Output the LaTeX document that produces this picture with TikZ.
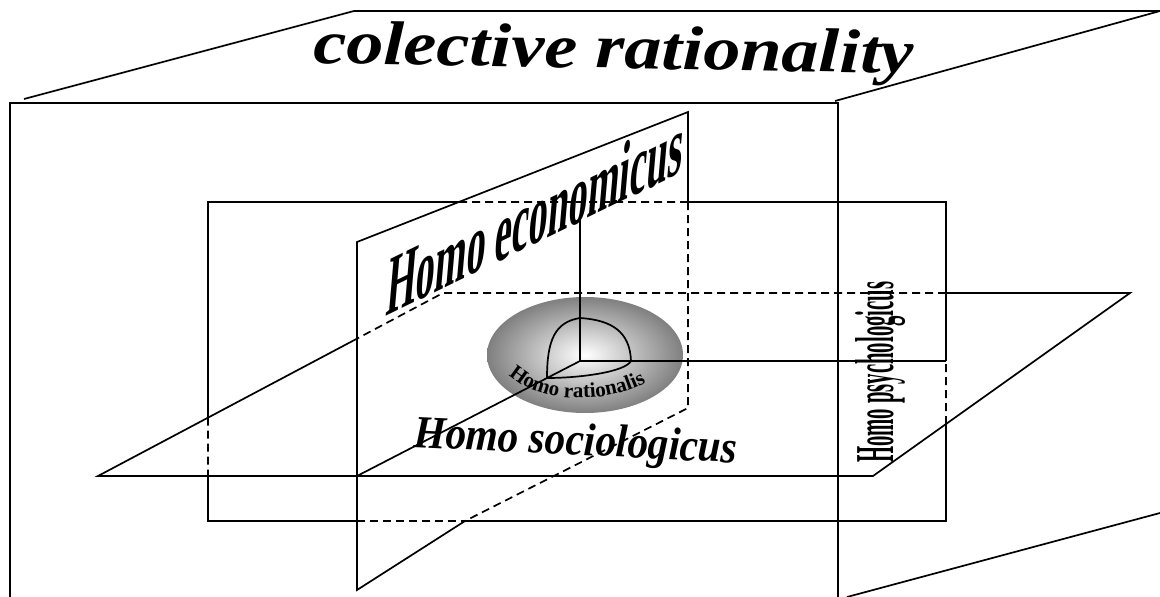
\documentclass[tikz,border=0pt]{standalone}
\usepackage{graphicx}
\usepackage{fontspec}
\setmainfont{Liberation Serif}
\usetikzlibrary{calc,shapes.geometric,decorations.text}
\newcommand{\OuterLabel}{colective rationality}
\newcommand{\EconLabel}{Homo economicus}
\newcommand{\SocioLabel}{Homo sociologicus}
\newcommand{\PsychoLabel}{Homo psychologicus}
\def\EdgeWidth{1.7pt}
\tikzset{
  edge/.style={line width=\EdgeWidth},
  hidden/.style={edge, dash pattern=on 8pt off 5pt},
  planetext/.style={inner sep=0pt, anchor=base west},
  core/.style={
    ellipse,
    minimum width=196pt,
    minimum height=116pt,
    inner sep=0pt,
    inner color=white,
    outer color=black!50
  }
}
\begin{document}
\begin{tikzpicture}[x=1pt,y=-1pt]
  \useasboundingbox (0,0) rectangle (1160,597);

  % box of the collective level
  \coordinate (boxTL) at (10,103);
  \coordinate (boxTR) at (838,103);
  \coordinate (boxBL) at (10,597);
  \coordinate (boxBR) at (838,597);
  \coordinate (backL) at (354,11);
  \coordinate (backR) at (1160,11);
  \coordinate (backB) at (1160,513);
  \draw[edge] (boxBL) -- (boxTL) -- (boxTR) -- (boxBR);
  \draw[edge] (24,99) -- (backL) -- (backR) -- (835,101);
  \draw[edge] (847,597) -- (backB);

  % rational core
  \node[core] (rational) at (585,355) {};

  % the three planes
  \coordinate (inTL) at (208,202);
  \coordinate (inTR) at (946,202);
  \coordinate (inBR) at (946,521);
  \coordinate (inBL) at (208,521);
  \coordinate (hA) at (98,476);
  \coordinate (hB) at (443,293);
  \coordinate (hC) at (1130,293);
  \coordinate (hD) at (873,476);
  \coordinate (vP) at (357,242);
  \coordinate (vQ) at (688,112);
  \coordinate (vR) at (688,408);
  \coordinate (vS) at (357,590);
  \coordinate (vX) at (465,521);
  \coordinate (O) at (580,361);
  \coordinate (axUp) at (580,218);
  \coordinate (axRight) at (946,361);
  \coordinate (axFront) at (357,476);

  \coordinate (c1) at (intersection of vP--vQ and inTL--inTR);
  \coordinate (c2) at (vQ |- inTL);
  \coordinate (c3) at (intersection of hC--hD and inTR--inBR);
  \coordinate (c4) at (intersection of hA--hB and inTL--inBL);
  \coordinate (c5) at (intersection of hA--hB and vP--vS);

  \draw[edge] (c1) -- (inTL) -- (c4);
  \draw[hidden] (c4) -- (inBL |- hA);
  \draw[edge] (inBL |- hA) -- (inBL) -- (vS |- inBL);
  \draw[hidden] (vS |- inBL) -- (vX);
  \draw[edge] (vX) -- (inBR) -- (c3);
  \draw[hidden] (c3) -- (axRight);
  \draw[edge] (axRight) -- (inTR) -- (c2);
  \draw[hidden] (c2) -- (c1);

  \draw[edge] (c5) -- (hA) -- (hD) -- (hC) -- (inTR |- hB);
  \draw[hidden] (inTR |- hB) -- (hB) -- (c5);

  \draw[edge] (vX) -- (vS) -- (vP) -- (vQ) -- (c2);
  \draw[hidden] (c2) -- (vR) -- (vX);

  \draw[edge] (axUp) -- (O) -- (axRight);
  \draw[edge] (O) -- (axFront);

  % quarter sphere
  \coordinate (sTop) at (580,318);
  \coordinate (sRight) at (631,361);
  \coordinate (sFront) at (547,378);
  \draw[edge] (sTop) .. controls (612,320) and (630,332) .. (sRight);
  \draw[edge] (sTop) .. controls (555,322) and (547,340) .. (sFront);
  \draw[edge] (sFront) .. controls (580,378) and (625,372) .. (sRight);

  \path[decorate, decoration={text along path, text align=center,
      text={|\bfseries\fontsize{21}{21}\selectfont|Homo rationalis}}]
    (508,374) .. controls (533,400) and (600,408) .. (647,382);

  \node[planetext, rotate=-1] (outerText) at (313,63)
    {\resizebox{600pt}{43pt}{\bfseries\itshape\OuterLabel}};
  \node[planetext, rotate=26, xslant=0.6] (econText) at (385,317)
    {\resizebox{329pt}{52pt}{\bfseries\EconLabel}};
  \node[planetext, rotate=-2.8] (socioText) at (413,447)
    {\resizebox{324pt}{32pt}{\bfseries\itshape\SocioLabel}};
  \node[planetext, rotate=90] (psychoText) at (893,463)
    {\resizebox{181pt}{38pt}{\bfseries\PsychoLabel}};
\end{tikzpicture}
\end{document}
